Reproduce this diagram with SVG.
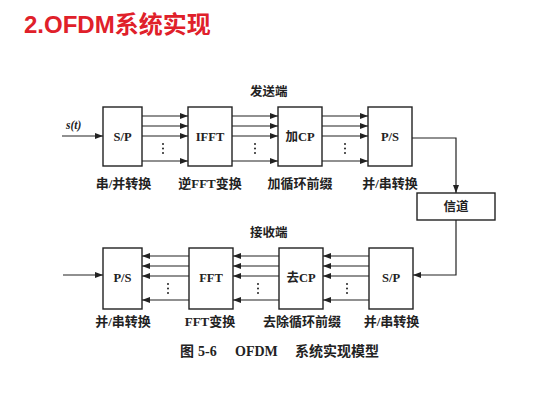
<svg xmlns="http://www.w3.org/2000/svg" width="555" height="400" viewBox="0 0 555 400">
<defs>
<marker id="ah" markerWidth="8" markerHeight="6" refX="8" refY="3" orient="auto" markerUnits="userSpaceOnUse">
<path d="M0,0 L8,3 L0,6 Z" fill="#222"/>
</marker>
<style>
.box{fill:#fff;stroke:#222;stroke-width:1.4}
.ar{fill:none;stroke:#222;stroke-width:1.2;marker-end:url(#ah)}
.bt{font-family:"Liberation Serif","Noto Sans CJK SC",serif;font-size:12.5px;font-weight:bold;fill:#222;text-anchor:middle}
.lb{font-family:"Liberation Serif","Noto Sans CJK SC",serif;font-size:13px;font-weight:bold;fill:#222;text-anchor:middle}
.hd{font-family:"Noto Sans CJK SC",sans-serif;font-size:12.5px;font-weight:bold;fill:#222}
.dot{fill:#222}
</style>
</defs>
<rect width="555" height="400" fill="#fff"/>
<text x="24" y="33" font-family="'Liberation Sans','Noto Sans CJK SC',sans-serif" font-size="24" font-weight="bold" fill="#e0202a">2.OFDM系统实现</text>

<g id="connectors">
<path class="ar" d="M62,136 H103"/>
<path class="ar" d="M142,116 H188"/><path class="ar" d="M142,126 H188"/><path class="ar" d="M142,136 H188"/><path class="ar" d="M142,161 H188"/>
<path class="ar" d="M232,116 H278"/><path class="ar" d="M232,126 H278"/><path class="ar" d="M232,136 H278"/><path class="ar" d="M232,161 H278"/>
<path class="ar" d="M322,116 H368"/><path class="ar" d="M322,126 H368"/><path class="ar" d="M322,136 H368"/><path class="ar" d="M322,161 H368"/>
<path class="ar" d="M412,138 H456 V193"/>
<path class="ar" d="M456,220 V275 H413"/>
<path class="ar" d="M369,256 H323"/><path class="ar" d="M369,266 H323"/><path class="ar" d="M369,276 H323"/><path class="ar" d="M369,300 H323"/>
<path class="ar" d="M279,256 H233"/><path class="ar" d="M279,266 H233"/><path class="ar" d="M279,276 H233"/><path class="ar" d="M279,300 H233"/>
<path class="ar" d="M189,256 H142"/><path class="ar" d="M189,266 H142"/><path class="ar" d="M189,276 H142"/><path class="ar" d="M189,300 H142"/>
<path class="ar" d="M63,275 H103"/>
<g class="dot">
<circle cx="163" cy="144" r="1"/><circle cx="163" cy="148.5" r="1"/><circle cx="163" cy="153" r="1"/>
<circle cx="255" cy="144" r="1"/><circle cx="255" cy="148.5" r="1"/><circle cx="255" cy="153" r="1"/>
<circle cx="345" cy="144" r="1"/><circle cx="345" cy="148.5" r="1"/><circle cx="345" cy="153" r="1"/>
<circle cx="168" cy="284" r="1"/><circle cx="168" cy="288.5" r="1"/><circle cx="168" cy="293" r="1"/>
<circle cx="258" cy="284" r="1"/><circle cx="258" cy="288.5" r="1"/><circle cx="258" cy="293" r="1"/>
<circle cx="347" cy="284" r="1"/><circle cx="347" cy="288.5" r="1"/><circle cx="347" cy="293" r="1"/>
</g>
</g>

<text x="66" y="129" font-family="'Liberation Serif',serif" font-size="11.5" font-style="italic" font-weight="bold" fill="#222">s(t)</text>
<text class="hd" x="250" y="96">发送端</text>
<text class="hd" x="250" y="237">接收端</text>

<g id="tx_sp"><rect class="box" x="103" y="107" width="39" height="59"/><text class="bt" x="122.5" y="141">S/P</text><text class="lb" x="123.5" y="188">串/并转换</text></g>
<g id="tx_ifft"><rect class="box" x="188" y="107" width="44" height="59"/><text class="bt" x="210" y="141">IFFT</text><text class="lb" x="210" y="188">逆FFT变换</text></g>
<g id="tx_addcp"><rect class="box" x="278" y="107" width="44" height="59"/><text class="bt" x="300" y="141">加CP</text><text class="lb" x="300" y="188">加循环前缀</text></g>
<g id="tx_ps"><rect class="box" x="368" y="107" width="44" height="59"/><text class="bt" x="390" y="141">P/S</text><text class="lb" x="390" y="188">并/串转换</text></g>
<g id="channel"><rect class="box" x="417" y="193" width="78" height="27"/><text class="bt" x="456" y="211">信道</text></g>
<g id="rx_sp"><rect class="box" x="369" y="248" width="44" height="61"/><text class="bt" x="391" y="282">S/P</text><text class="lb" x="391.5" y="326">并/串转换</text></g>
<g id="rx_rmcp"><rect class="box" x="279" y="248" width="44" height="61"/><text class="bt" x="301" y="282">去CP</text><text class="lb" x="302" y="326">去除循环前缀</text></g>
<g id="rx_fft"><rect class="box" x="189" y="248" width="44" height="61"/><text class="bt" x="211" y="282">FFT</text><text class="lb" x="210" y="326">FFT变换</text></g>
<g id="rx_ps"><rect class="box" x="103" y="248" width="39" height="61"/><text class="bt" x="122.5" y="282">P/S</text><text class="lb" x="123" y="326">并/串转换</text></g>

<text y="356" font-family="'Liberation Serif','Noto Sans CJK SC',serif" font-size="14" font-weight="600" fill="#222"><tspan x="180">图</tspan><tspan x="198">5-6</tspan><tspan x="235">OFDM</tspan><tspan x="295">系统实现模型</tspan></text>
</svg>
